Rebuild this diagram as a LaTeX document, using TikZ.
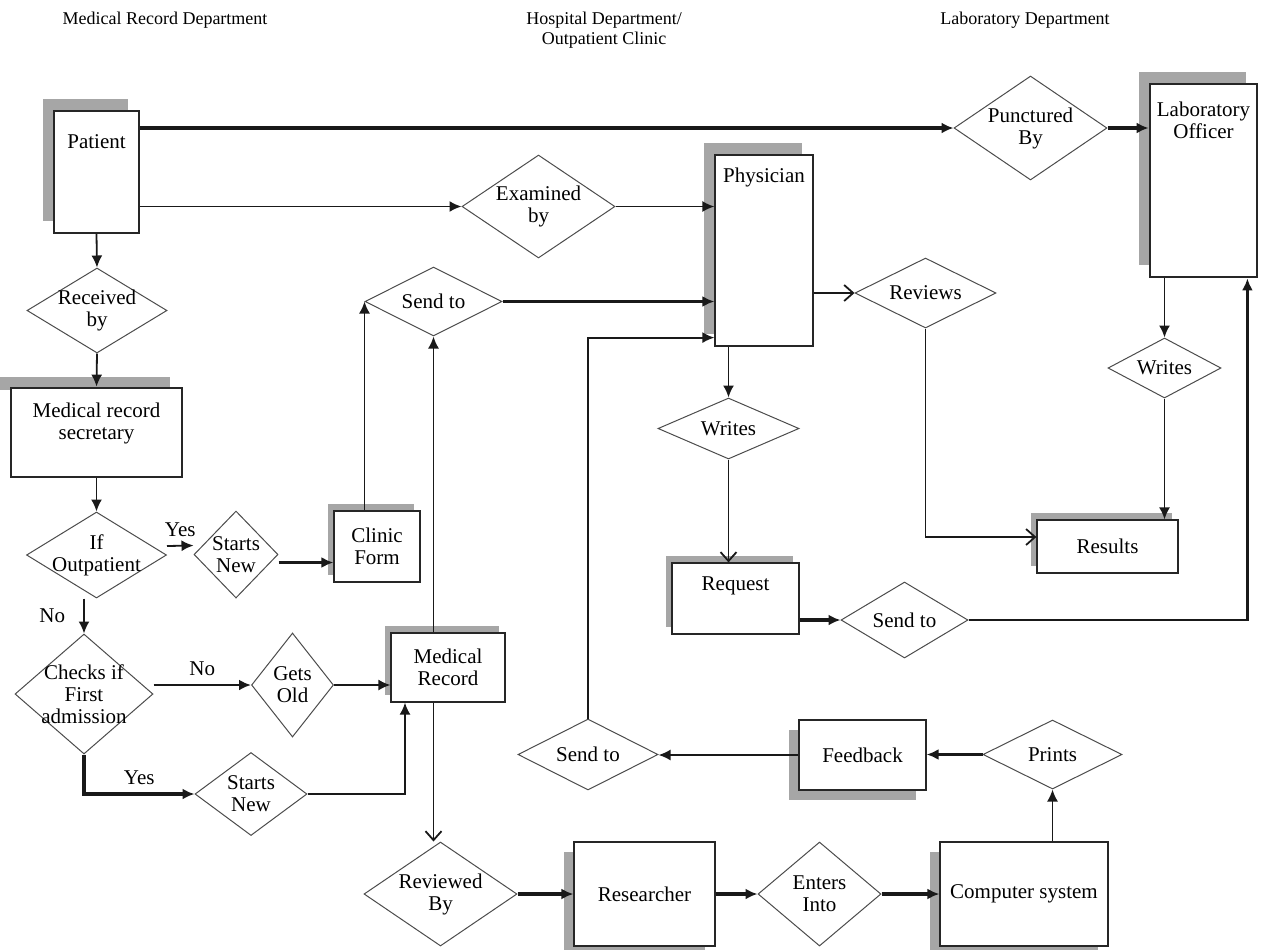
\documentclass[tikz,border=0pt]{standalone}
\usepackage{fontspec}
\setmainfont{Liberation Serif}
\usetikzlibrary{shapes.geometric, arrows.meta, shadows}
\tikzstyle{box} = [draw=black!85, fill=white, line width=0.6pt, inner sep=0pt, align=center]
\tikzstyle{heavybox} = [box, line width=1.4pt]
\tikzstyle{dia} = [diamond, draw=black!70, fill=white, line width=0.5pt, inner sep=0pt]
\tikzstyle{txt} = [anchor=center, align=center, inner sep=0pt]
\tikzstyle{lbl} = [inner sep=1pt]
\tikzstyle{dept} = [font=\fontsize{9}{10}\selectfont, align=center]
\tikzstyle{shadowul} = [drop shadow={shadow xshift=-5.5pt, shadow yshift=6pt, fill=black!35, opacity=1}]
\tikzstyle{shadowsm} = [drop shadow={shadow xshift=-3pt, shadow yshift=3.5pt, fill=black!35, opacity=1}]
\tikzstyle{shadowdl} = [drop shadow={shadow xshift=-5pt, shadow yshift=-5pt, fill=black!35, opacity=1}]
\tikzstyle{arr} = [-{Latex[length=6pt, width=5.5pt]}, line width=0.9pt, draw=black!90]
\tikzstyle{heavy} = [arr, line width=1.7pt]
\tikzstyle{barb} = [-{Straight Barb[length=4.5pt, width=8pt]}, line width=0.9pt, draw=black!90]

\begin{document}
\begin{tikzpicture}[x=0.5pt, y=-0.5pt, font=\fontsize{10.5}{11}\selectfont]
\useasboundingbox (0,0) rectangle (1263,949);

\node (deptmr) [dept] at (165,20) {Medical Record Department};
\node (depthosp) [dept] at (604,30) {Hospital Department/\\Outpatient Clinic};
\node (deptlab) [dept] at (1025,20) {Laboratory Department};

% boxes
\fill [black!35] (0,377) rectangle (170,390);
\node (patient) [box, shadowul, minimum width=42.5pt, minimum height=61pt, label={[txt, yshift=-15.5pt]north:Patient}] at (96.5,172) {};
\node (secretary) [heavybox, minimum width=85.5pt, minimum height=44.5pt, label={[txt, yshift=-18.5pt]north:Medical record\\secretary}] at (96.5,432.5) {};
\node (clinic) [box, shadowsm, minimum width=43pt, minimum height=35.5pt] at (377,546.5) {Clinic\\Form};
\node (medrec) [box, shadowsm, minimum width=57pt, minimum height=34.5pt] at (448,667.5) {Medical\\Record};
\node (physician) [box, shadowul, minimum width=49pt, minimum height=95.5pt, label={[txt, yshift=-11.5pt]north:Physician}] at (764,250.5) {};
\node (lab) [heavybox, shadowul, minimum width=53.5pt, minimum height=96.5pt, label={[txt, yshift=-19pt]north:Laboratory\\Officer}] at (1203.5,180.5) {};
\node (request) [box, shadowsm, minimum width=63.5pt, minimum height=35.5pt, label={[txt, yshift=-11.5pt]north:Request}] at (735.5,598.5) {};
\node (results) [box, shadowsm, minimum width=70.5pt, minimum height=26.5pt] at (1107.5,546.5) {Results};
\node (feedback) [box, shadowdl, minimum width=63.5pt, minimum height=35pt] at (862.5,755) {Feedback};
\node (researcher) [box, shadowdl, minimum width=70.5pt, minimum height=52pt] at (644.5,894) {Researcher};
\node (computer) [box, shadowdl, minimum width=84pt, minimum height=52pt] at (1024,894) {Computer system};

% decisions
\node (received) [dia, minimum width=70pt, minimum height=42.5pt, label={[txt]center:Received\\by}] at (97,310.5) {};
\node (ifout) [dia, minimum width=70pt, minimum height=43pt, label={[txt]center:If\\Outpatient}] at (96.5,555) {};
\node (startsa) [dia, minimum width=42pt, minimum height=43.5pt, label={[txt]center:Starts\\New}] at (236,554.5) {};
\node (senda) [dia, minimum width=68.5pt, minimum height=34.5pt, label={[txt]center:Send to}] at (433.5,301.5) {};
\node (examined) [dia, minimum width=76.5pt, minimum height=51.5pt, label={[txt]center:Examined\\by}] at (538.5,206.5) {};
\node (punctured) [dia, minimum width=76.5pt, minimum height=52pt, label={[txt]center:Punctured\\By}] at (1030.5,128) {};
\node (reviews) [dia, minimum width=70.5pt, minimum height=35pt, label={[txt]center:Reviews}] at (925.5,293) {};
\node (writesa) [dia, minimum width=70.5pt, minimum height=30.5pt, label={[txt]center:Writes}] at (728.5,428.5) {};
\node (writesb) [dia, minimum width=56.5pt, minimum height=30pt, label={[txt]center:Writes}] at (1164.5,368) {};
\node (sendb) [dia, minimum width=63.5pt, minimum height=38pt, label={[txt]center:Send to}] at (904.5,620) {};
\node (checks) [dia, minimum width=69pt, minimum height=60pt, label={[txt]center:Checks if\\First\\admission}] at (84,694) {};
\node (getsold) [dia, minimum width=41pt, minimum height=52pt, label={[txt]center:Gets\\Old}] at (292.5,685) {};
\node (startsb) [dia, minimum width=56pt, minimum height=41.5pt, label={[txt]center:Starts\\New}] at (251,794) {};
\node (reviewed) [dia, minimum width=76.5pt, minimum height=52pt, label={[txt]center:Reviewed\\By}] at (440.5,894) {};
\node (enters) [dia, minimum width=61.5pt, minimum height=52pt, label={[txt]center:Enters\\Into}] at (819.5,894) {};
\node (prints) [dia, minimum width=69.5pt, minimum height=34.5pt, label={[txt]center:Prints}] at (1052.5,754.5) {};
\node (sendc) [dia, minimum width=70pt, minimum height=35.5pt, label={[txt]center:Send to}] at (588,754.5) {};

% connectors
\draw [heavy] (patient.east |- punctured.west) -- (punctured.west);
\draw [heavy] (punctured.east) -- (punctured.east -| lab.west);
\draw [arr] (patient.east |- examined.west) -- (examined.west);
\draw [arr] (examined.east) -- (examined.east -| physician.west);
\draw [arr] (patient.south) -- (received.north);
\draw [arr] (received.south) -- (secretary.north);
\draw [arr] (secretary.south) -- (ifout.north);
\draw [arr] ([yshift=4.5pt]ifout.east) -- node (yesa) [lbl, above=3pt] {Yes} ([yshift=4.5pt]startsa.west);
\draw [arr, line width=1.2pt] ([yshift=-4pt]startsa.east) -- ([yshift=-4pt]startsa.east -| clinic.west);
\draw [arr] (clinic.north -| senda.west) -- (senda.west);
\draw [heavy] (senda.east) -- (senda.east -| physician.west);
\draw [arr] (medrec.north -| senda.south) -- (senda.south);
\draw [arr] (checks.north |- ifout.south) -- node (noa) [lbl, left=8pt] {No} (checks.north);
\draw [arr, line width=1.2pt] (checks.east |- getsold.west) -- node (nob) [lbl, above=3pt] {No} (getsold.west);
\draw [arr] (getsold.east) -- (getsold.east -| medrec.west);
\draw [heavy] (checks.south) |- node (yesb) [lbl, above=3pt, pos=0.75] {Yes} (startsb.west);
\draw [arr] (startsb.east) -| ([xshift=-21.5pt]medrec.south);
\draw [barb] (medrec.south -| senda.south) -- (senda.south |- reviewed.north);
\draw [heavy] (reviewed.east) -- (researcher.west);
\draw [heavy] (researcher.east) -- (enters.west);
\draw [heavy] (enters.east) -- (computer.west);
\draw [arr] (computer.north -| prints.south) -- (prints.south);
\draw [heavy] (prints.west) -- (prints.west -| feedback.east);
\draw [arr] (feedback.west) -- (feedback.west -| sendc.east);
\draw [arr] (sendc.north) |- ([yshift=4.5pt]physician.south west);
\draw [barb] (physician.east |- reviews.west) -- (reviews.west);
\draw [barb] (reviews.south) |- ([yshift=4.75pt]results.west);
\draw [arr] (physician.south -| writesa.north) -- (writesa.north);
\draw [barb] (writesa.south) -- (writesa.south |- request.north);
\draw [heavy] (request.east |- sendb.west) -- (sendb.west);
\draw [arr, line width=1.2pt] (sendb.east) -| ([xshift=-5.5pt]lab.south east);
\draw [arr] (lab.south -| writesb.north) -- (writesb.north);
\draw [arr] (writesb.south) -- (writesb.south |- results.north);
\end{tikzpicture}
\end{document}
